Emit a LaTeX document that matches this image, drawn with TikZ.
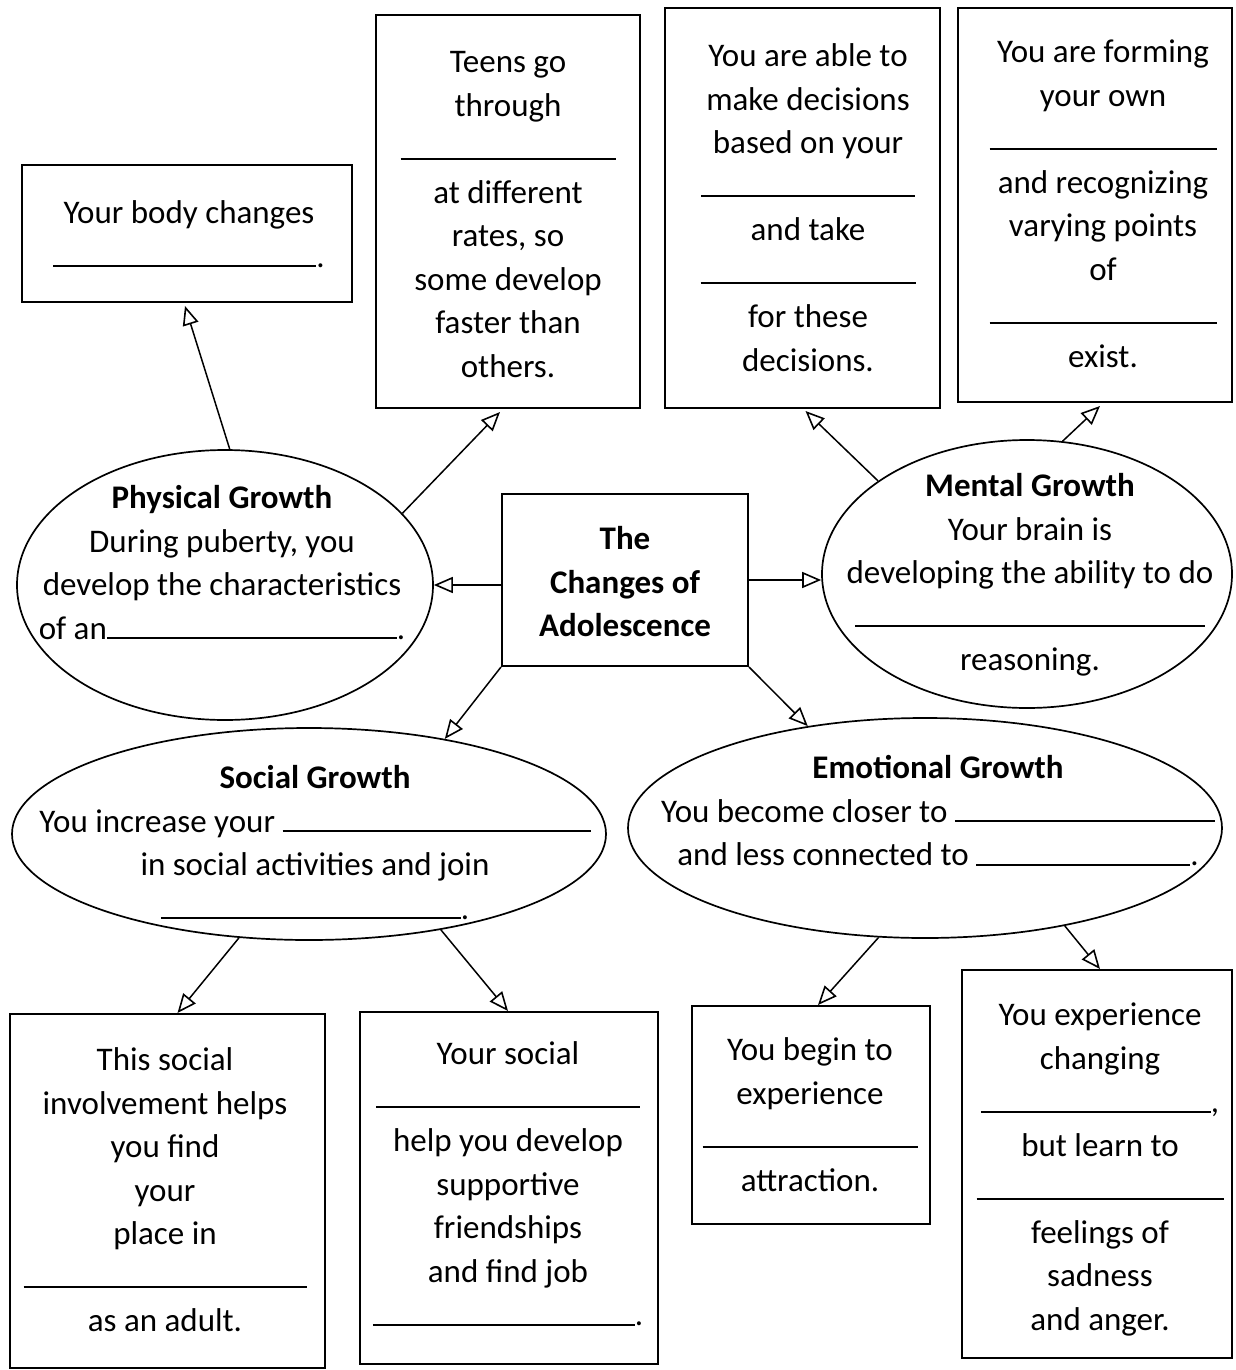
\documentclass[tikz,border=0pt]{standalone}
\usepackage{fontspec}
\setmainfont{Carlito}
\usetikzlibrary{arrows.meta,shapes.geometric,calc}
\newcommand\myblank[1]{\rule{#1pt}{2pt}}
\begin{document}
\begin{tikzpicture}[x=1pt,y=-1pt,
  box/.style={draw,line width=2pt,rectangle,inner sep=0pt},
  oval/.style={draw,line width=1.7pt,ellipse,inner sep=0pt},
  txt/.style={align=center,inner sep=0pt,anchor=north,font=\fontsize{33pt}{43.5pt}\selectfont},
  conn/.style={line width=1.5pt,-{Triangle[open,length=19pt,width=16pt,line width=1.6pt]}},
]
\fill[white] (0,0) rectangle (1236,1370);
\useasboundingbox (0,0) rectangle (1236,1370);

% boxes
\node[box,minimum width=330pt,minimum height=137pt] (body) at (187,233.5) {};
\node[box,minimum width=264pt,minimum height=393pt] (teens) at (508,211.5) {};
\node[box,minimum width=275pt,minimum height=400pt] (decis) at (802.5,208) {};
\node[box,minimum width=274pt,minimum height=394pt] (form) at (1095,205) {};
\node[box,minimum width=246pt,minimum height=172pt] (central) at (625,580) {};
\node[box,minimum width=315pt,minimum height=354pt] (b1) at (167.5,1191) {};
\node[box,minimum width=298pt,minimum height=352pt] (b2) at (509,1188) {};
\node[box,minimum width=238pt,minimum height=218pt] (b3) at (811,1115) {};
\node[box,minimum width=270pt,minimum height=388pt] (b4) at (1097,1164) {};

% ellipses
\node[oval,minimum width=416pt,minimum height=270pt] (phys) at (225,585) {};
\node[oval,minimum width=410pt,minimum height=268pt] (mental) at (1027,574) {};
\node[oval,minimum width=594pt,minimum height=212pt] (social) at (309,834) {};
\node[oval,minimum width=594pt,minimum height=220pt] (emot) at (925,828) {};

% texts
\node[txt] (bodyT) at (189,193) {\strut Your body changes\\\myblank{263}.};
\node[txt] (teensT) at (508,42) {\strut Teens go\\through\\\myblank{215}\\at different\\rates, so\\some develop\\faster than\\others.};
\node[txt] (decisT) at (808,36) {\strut You are able to\\make decisions\\based on your\\\myblank{214}\\and take\\\myblank{215}\\for these\\decisions.};
\node[txt] (formT) at (1103,32) {\strut You are forming\\your own\\\myblank{227}\\and recognizing\\varying points\\of\\\myblank{227}\\exist.};
\node[txt,font=\fontsize{33pt}{43.5pt}\selectfont\bfseries] (centralT) at (625,519) {\strut The\\Changes of\\Adolescence};
\node[txt] (physT) at (222,478) {\strut\textbf{Physical Growth}\\During puberty, you\\develop the characteristics\\of an\myblank{290}.};
\node[txt] (mentalT) at (1030,466) {\strut\textbf{Mental Growth}\\Your brain is\\developing the ability to do\\\myblank{350}\\reasoning.};
\node[txt] (socialT) at (315,758) {\strut\textbf{Social Growth}\\You increase your \myblank{308}\\in social activities and join\\\myblank{300}.};
\node[txt] (emotT) at (938,748) {\strut\textbf{Emotional Growth}\\You become closer to \myblank{260}\\and less connected to \myblank{214}.};
\node[txt] (b1T) at (165,1040) {\strut This social\\involvement helps\\you find\\your\\place in\\\myblank{283}\\as an adult.};
\node[txt] (b2T) at (508,1034) {\strut Your social\\\myblank{264}\\help you develop\\supportive\\friendships\\and find job\\\myblank{262}.};
\node[txt] (b3T) at (810,1030) {\strut You begin to\\experience\\\myblank{215}\\attraction.};
\node[txt] (b4T) at (1100,995) {\strut You experience\\changing\\\myblank{230},\\but learn to\\\myblank{247}\\feelings of\\sadness\\and anger.};

% connectors
\draw[conn] (phys.88) -- ([xshift=-2pt,yshift=-3pt]body.south);
\draw[conn] (phys.22) -- ([xshift=-8pt,yshift=-3pt]teens.south);
\draw[conn] (central.west |- phys.east) -- (phys.east);
\draw[conn] (central.east) -- (central.east -| mental.west);
\draw[conn] (central.south west) -- (social.35);
\draw[conn] (central.south east) -- (emot.139);
\draw[conn] (mental.148) -- ([xshift=3pt,yshift=-2pt]decis.south);
\draw[conn] (mental.75) -- ([xshift=5pt,yshift=-3pt]form.south);
\draw[conn] (social.236) -- ([xshift=10pt]b1.north);
\draw[conn] (social.324) -- ([xshift=-1pt]b2.north);
\draw[conn] (emot.247.5) -- ([xshift=7pt]b3.north);
\draw[conn] (emot.325) -- ([xshift=3pt]b4.north);
\end{tikzpicture}
\end{document}
